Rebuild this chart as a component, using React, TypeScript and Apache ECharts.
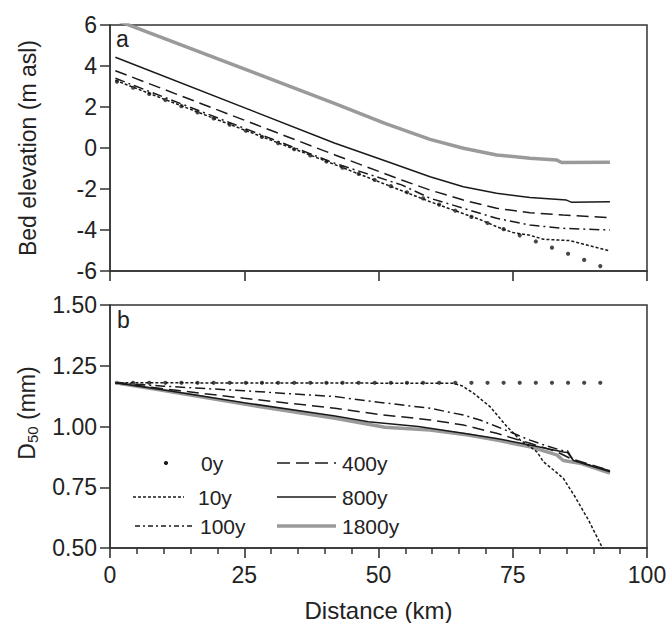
import React, { useEffect, useRef } from "react";
import * as echarts from "echarts";

const FONT = "Arial, 'Liberation Sans', Helvetica, sans-serif";

// Axis tick values
const xTickValues = [0, 25, 50, 75, 100];
const elevTicks = [-6, -4, -2, 0, 2, 4, 6];
const d50Ticks = [0.5, 0.75, 1.0, 1.25, 1.5];

// Legend labels
const seriesNames = ["0y", "10y", "100y", "400y", "800y", "1800y"];

// 0y sample positions (km) – shown as dots
const dotX = [1.3, 4.3, 7.3, 10.3, 13.3, 16.3, 19.3, 22.3, 25.3, 28.3, 31.3, 34.3, 37.3, 40.3, 43.3, 46.3,
  49.3, 52.3, 55.3, 58.3, 61.3, 64.3, 67.3, 70.3, 73.3, 76.3, 79.3, 82.3, 85.3, 88.3, 91.3];

// Panel a: bed elevation (m asl)
const elev0y = [3.24, 2.94, 2.64, 2.34, 2.04, 1.74, 1.44, 1.14, 0.84, 0.54, 0.24, -0.06, -0.36, -0.66, -0.96, -1.26,
  -1.56, -1.86, -2.16, -2.46, -2.76, -3.06, -3.36, -3.66, -3.96, -4.26, -4.56, -4.86, -5.16, -5.46, -5.76];
const elev10y = [[1, 3.3], [20, 1.38], [40, -0.62], [59.6, -2.62], [66, -3.22], [69, -3.5], [72, -3.84], [75, -4.12],
  [78.2, -4.26], [80.7, -4.45], [85.7, -4.52], [88.8, -4.73], [93.1, -5.02]];
const elev100y = [[1, 3.4], [41.9, -0.75], [54.3, -1.8], [59.6, -2.45], [65.8, -2.94], [72, -3.43], [78.2, -3.76],
  [84.4, -3.92], [93.1, -4.0]];
const elev400y = [[1, 3.77], [41.9, -0.34], [54.3, -1.56], [59.6, -2.05], [65.8, -2.54], [72, -2.94], [78.2, -3.16],
  [84.4, -3.27], [93.1, -3.4]];
const elev800y = [[1, 4.43], [41.9, 0.23], [51.2, -0.62], [59.6, -1.4], [65.8, -1.89], [72, -2.21], [78.2, -2.42],
  [85.0, -2.54], [86.0, -2.65], [93.1, -2.62]];
const elev1800y = [[1, 6.25], [41.9, 2.17], [51.2, 1.2], [59.6, 0.42], [65.8, -0.01], [72, -0.34], [78.2, -0.5],
  [83.2, -0.59], [84.1, -0.71], [93.1, -0.7]];

// Panel b: D50 (mm)
const d50_0y = [1.18, 1.18, 1.18, 1.18, 1.18, 1.18, 1.18, 1.18, 1.18, 1.18, 1.18, 1.18, 1.18, 1.18, 1.18, 1.18,
  1.18, 1.18, 1.18, 1.18, 1.18, 1.18, 1.18, 1.18, 1.18, 1.18, 1.18, 1.18, 1.18, 1.18, 1.18];
const d50_10y = [[1, 1.18], [63.9, 1.178], [65.5, 1.168], [67.7, 1.137], [70.8, 1.081], [73.9, 1.0], [76.4, 0.944],
  [78.2, 0.917], [79.5, 0.896], [80.7, 0.855], [82.6, 0.821], [84.4, 0.787], [86.6, 0.711], [89.1, 0.615],
  [91.6, 0.505], [92.2, 0.48]];
const d50_100y = [[1, 1.18], [10, 1.166], [25, 1.147], [41.9, 1.123], [50, 1.1], [59.6, 1.075], [65.8, 1.047],
  [68.9, 1.027], [72, 1.0], [75.1, 0.972], [78.2, 0.944], [81.3, 0.92], [84.4, 0.9], [85.2, 0.9], [86.3, 0.86],
  [93.1, 0.818]];
const d50_400y = [[1, 1.18], [10, 1.155], [25, 1.116], [41.9, 1.075], [50, 1.05], [59.6, 1.027], [65.8, 1.006],
  [72, 0.972], [78.2, 0.931], [83.2, 0.896], [85.7, 0.869], [93.1, 0.818]];
const d50_800y = [[1, 1.18], [10, 1.15], [25, 1.098], [41.9, 1.043], [48.1, 1.02], [57.4, 1.0], [65.8, 0.972],
  [72, 0.951], [78.2, 0.924], [84.4, 0.895], [85.2, 0.893], [86.3, 0.86], [93.1, 0.814]];
const d50_1800y = [[1, 1.18], [10, 1.148], [25, 1.092], [41.9, 1.034], [51.2, 0.997], [59.6, 0.986], [66.7, 0.965],
  [72, 0.944], [78.2, 0.917], [83.2, 0.883], [84.4, 0.86], [87.5, 0.849], [93.1, 0.808]];

const BLACK = "#1a1a1a";
const GRAY = "#9a9a9a";
const AXIS = "#333";
const TEXT = "#222";

const dash10 = [3, 2];
const dash100 = [10, 4, 2, 4];
const dash400 = [12, 6];

export default function App() {
  const ref = useRef<HTMLDivElement>(null);
  useEffect(() => {
    if (!ref.current) return;
    const chart = echarts.init(ref.current, undefined, { renderer: "svg" });

    const lineSeries = (name: string, data: number[][], idx: number, color: string, width: number, dash: any) => ({
      name,
      type: "line",
      xAxisIndex: idx,
      yAxisIndex: idx,
      data,
      showSymbol: false,
      symbol: "none",
      clip: true,
      lineStyle: { color, width, type: dash },
      silent: true,
    });
    const dotSeries = (name: string, ys: number[], idx: number) => ({
      name,
      type: "scatter",
      xAxisIndex: idx,
      yAxisIndex: idx,
      data: dotX.map((x, i) => [x, ys[i]]),
      symbol: "circle",
      symbolSize: 4.2,
      itemStyle: { color: BLACK },
      silent: true,
    });

    const xAxisBase = (gridIndex: number, labels: boolean) => ({
      type: "value",
      gridIndex,
      position: "bottom",
      min: 0,
      max: 100,
      interval: 25,
      axisLine: { show: true, onZero: false, lineStyle: { color: AXIS, width: 1.5 } },
      axisTick: { show: true, inside: false, length: 10, lineStyle: { color: AXIS, width: 1.6 } },
      minorTick: { show: labels, splitNumber: 5, length: 6, lineStyle: { color: AXIS, width: 1.5 } },
      splitLine: { show: false },
      axisLabel: {
        show: labels,
        margin: 15,
        fontSize: 23,
        fontFamily: FONT,
        color: TEXT,
        formatter: (v: number) => (xTickValues.includes(v) ? String(v) : ""),
      },
    });

    const option: any = {
      animation: false,
      grid: [
        { left: 110, top: 25, width: 537, height: 246, show: true, borderColor: AXIS, borderWidth: 1.5 },
        { left: 110, top: 305, width: 537, height: 243, show: true, borderColor: AXIS, borderWidth: 1.5 },
      ],
      xAxis: [
        xAxisBase(0, false),
        {
          ...xAxisBase(1, true),
          name: "Distance (km)",
          nameLocation: "middle",
          nameGap: 50,
          nameTextStyle: { fontSize: 24, fontFamily: FONT, color: TEXT },
        },
      ],
      yAxis: [
        {
          type: "value",
          gridIndex: 0,
          min: elevTicks[0],
          max: elevTicks[elevTicks.length - 1],
          interval: 2,
          axisLine: { show: true, onZero: false, lineStyle: { color: AXIS, width: 1.5 } },
          axisTick: { show: true, length: 10, lineStyle: { color: AXIS, width: 1.5 } },
          splitLine: { show: false },
          axisLabel: { margin: 13, fontSize: 23, fontFamily: FONT, color: TEXT },
          name: "Bed elevation (m asl)",
          nameLocation: "middle",
          nameGap: 71,
          nameTextStyle: { fontSize: 23, fontFamily: FONT, color: TEXT },
        },
        {
          type: "value",
          gridIndex: 1,
          min: d50Ticks[0],
          max: d50Ticks[d50Ticks.length - 1],
          interval: 0.25,
          axisLine: { show: true, onZero: false, lineStyle: { color: AXIS, width: 1.5 } },
          axisTick: { show: true, length: 10, lineStyle: { color: AXIS, width: 1.5 } },
          splitLine: { show: false },
          axisLabel: {
            margin: 13,
            fontSize: 23,
            fontFamily: FONT,
            color: TEXT,
            formatter: (v: number) => v.toFixed(2),
          },
        },
      ],
      series: [
        lineSeries(seriesNames[5], elev1800y, 0, GRAY, 3.5, "solid"),
        lineSeries(seriesNames[4], elev800y, 0, BLACK, 1.5, "solid"),
        lineSeries(seriesNames[3], elev400y, 0, BLACK, 1.5, dash400),
        lineSeries(seriesNames[2], elev100y, 0, BLACK, 1.5, dash100),
        lineSeries(seriesNames[1], elev10y, 0, BLACK, 1.5, dash10),
        dotSeries(seriesNames[0], elev0y, 0),
        lineSeries(seriesNames[5], d50_1800y, 1, GRAY, 3.5, "solid"),
        lineSeries(seriesNames[4], d50_800y, 1, BLACK, 1.5, "solid"),
        lineSeries(seriesNames[3], d50_400y, 1, BLACK, 1.5, dash400),
        lineSeries(seriesNames[2], d50_100y, 1, BLACK, 1.5, dash100),
        lineSeries(seriesNames[1], d50_10y, 1, BLACK, 1.5, dash10),
        dotSeries(seriesNames[0], d50_0y, 1),
      ],
      graphic: [
        { type: "text", x: 116, y: 39, style: { text: "a", fontSize: 23, fontFamily: FONT, fill: TEXT, verticalAlign: "middle" } },
        { type: "text", x: 117, y: 320, style: { text: "b", fontSize: 23, fontFamily: FONT, fill: TEXT, verticalAlign: "middle" } },
        {
          type: "text",
          x: 27,
          y: 413,
          rotation: Math.PI / 2,
          style: {
            text: "{n|D}{s|50}{n| (mm)}",
            align: "center",
            verticalAlign: "middle",
            fill: TEXT,
            rich: {
              n: { fontSize: 23, fontFamily: FONT, fill: TEXT, lineHeight: 26 },
              s: { fontSize: 15, fontFamily: FONT, fill: TEXT, lineHeight: 12, verticalAlign: "bottom" },
            },
          },
        },
        // legend column 1
        { type: "circle", shape: { cx: 166, cy: 463, r: 2.1 }, style: { fill: BLACK } },
        { type: "text", x: 201, y: 463, style: { text: seriesNames[0], fontSize: 21, fontFamily: FONT, fill: TEXT, verticalAlign: "middle" } },
        { type: "line", shape: { x1: 133, y1: 497, x2: 184, y2: 497 }, style: { stroke: BLACK, lineWidth: 1.3, lineDash: dash10 } },
        { type: "text", x: 198, y: 497, style: { text: seriesNames[1], fontSize: 21, fontFamily: FONT, fill: TEXT, verticalAlign: "middle" } },
        { type: "line", shape: { x1: 135, y1: 526, x2: 193, y2: 526 }, style: { stroke: BLACK, lineWidth: 1.3, lineDash: [5, 3, 2, 3] } },
        { type: "text", x: 200, y: 526, style: { text: seriesNames[2], fontSize: 21, fontFamily: FONT, fill: TEXT, verticalAlign: "middle" } },
        // legend column 2
        { type: "line", shape: { x1: 277, y1: 463, x2: 336, y2: 463 }, style: { stroke: BLACK, lineWidth: 1.5, lineDash: [13, 6] } },
        { type: "text", x: 342, y: 463, style: { text: seriesNames[3], fontSize: 21, fontFamily: FONT, fill: TEXT, verticalAlign: "middle" } },
        { type: "line", shape: { x1: 277, y1: 497, x2: 336, y2: 497 }, style: { stroke: BLACK, lineWidth: 1.6 } },
        { type: "text", x: 342, y: 497, style: { text: seriesNames[4], fontSize: 21, fontFamily: FONT, fill: TEXT, verticalAlign: "middle" } },
        { type: "line", shape: { x1: 277, y1: 526, x2: 336, y2: 526 }, style: { stroke: GRAY, lineWidth: 3.5 } },
        { type: "text", x: 342, y: 526, style: { text: seriesNames[5], fontSize: 21, fontFamily: FONT, fill: TEXT, verticalAlign: "middle" } },
      ],
    };
    chart.setOption(option);
    return () => chart.dispose();
  }, []);
  return (
    <div
      ref={ref}
      style={{ position: "absolute", left: 0, top: 0, width: 670, height: 623, background: "#fff" }}
    />
  );
}
